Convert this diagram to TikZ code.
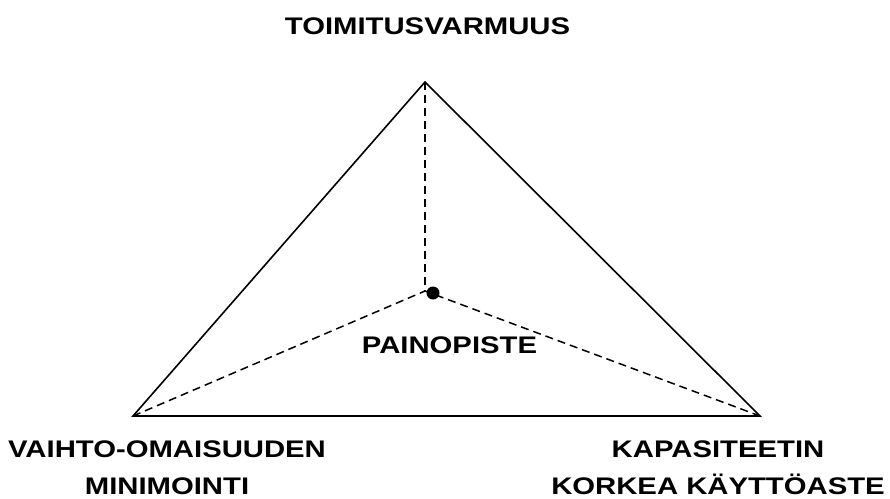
\documentclass[tikz,border=0pt]{standalone}
\usepackage{fontspec}
\setmainfont{Liberation Sans}[FakeStretch=1.22]
\begin{document}
\begin{tikzpicture}[x=1pt,y=-1pt,
  lbl/.style={font=\fontsize{24}{37}\selectfont\bfseries, inner sep=0pt, align=center, anchor=base},
  side/.style={line width=1.6pt},
  guide/.style={line width=1.5pt, dash pattern=on 8pt off 5pt}]
\useasboundingbox (0,0) rectangle (890,498);
\coordinate (A) at (425,82);
\coordinate (BL) at (133,416);
\coordinate (BR) at (760,416);
\coordinate (C) at (425,291);
\draw[side, line join=miter] (A) -- (BL) -- (BR) -- cycle;
\draw[guide] (A) -- (C);
\draw[guide] (BL) -- (C);
\draw[guide] (BR) -- (C);
\fill (433,293) circle (6.5pt) coordinate (dot);
\node[lbl] (top) at (427.5,34.5) {TOIMITUSVARMUUS};
\node[lbl] (mid) at (449.5,353) {PAINOPISTE};
\node[lbl] (left) at (167,494) {VAIHTO-OMAISUUDEN\\MINIMOINTI};
\node[lbl] (right) at (718,494) {KAPASITEETIN\\KORKEA KÄYTTÖASTE};
\end{tikzpicture}
\end{document}
